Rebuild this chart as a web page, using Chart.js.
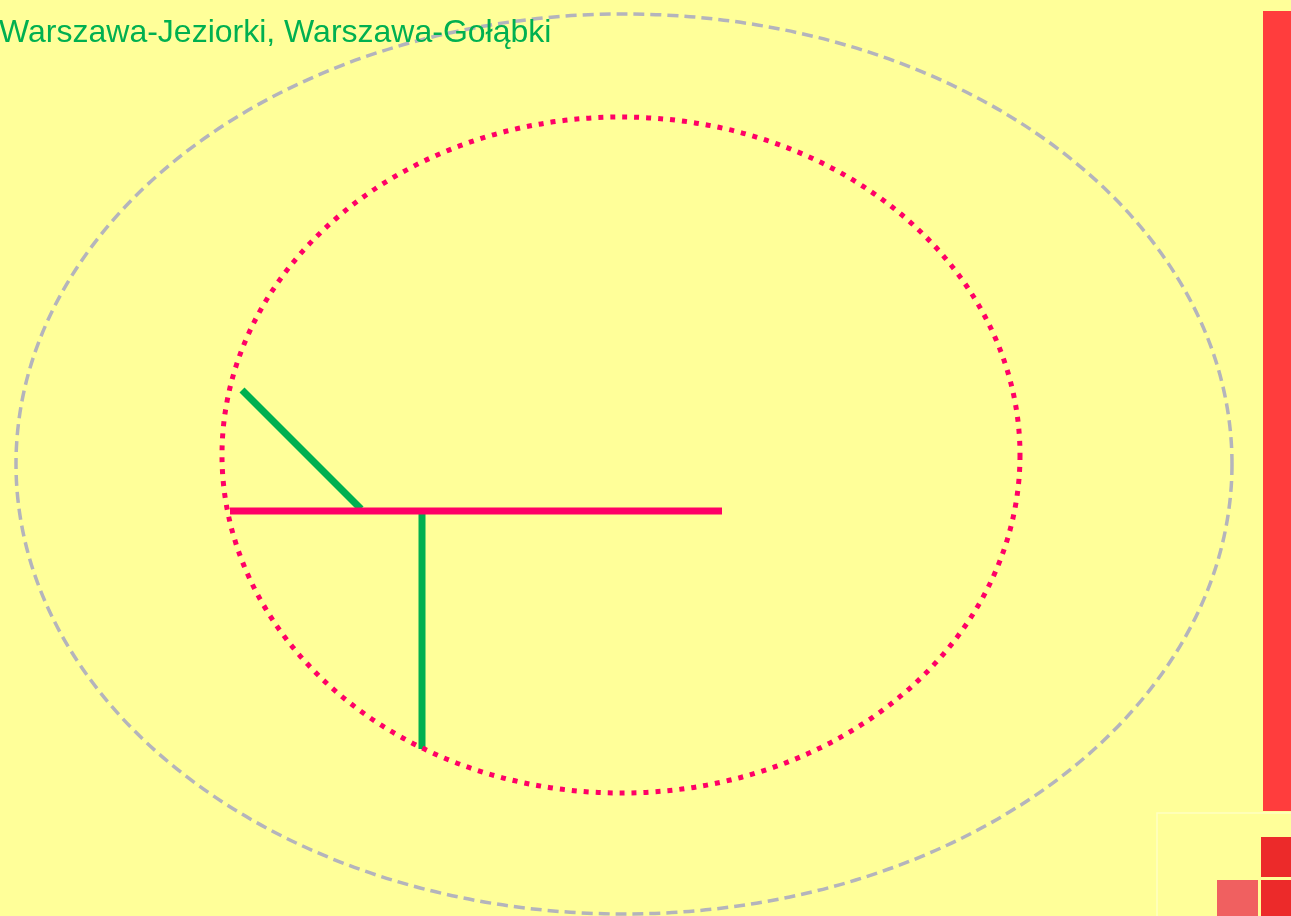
<!DOCTYPE html>
<html>
<head>
<meta charset="utf-8">
<script src="https://cdn.jsdelivr.net/npm/chart.js@4/dist/chart.umd.min.js"></script>
<style>
    html, body { margin: 0; padding: 0; background: #ffff99; overflow: hidden; }
    .mapa { position: relative; width: 1291px; height: 916px; }
</style>
</head>
<body>
<div class="mapa"><canvas class="myChart"></canvas></div>
<script>
// PODPIS
const podpis = 'Warszawa-Jeziorki, Warszawa-Gołąbki';

// STREFY (ŚRODEK X, ŚRODEK Y, PROMIEŃ X, PROMIEŃ Y)
const strefaZewnetrzna = [624, 464, 608, 450];
const strefaWewnetrzna = [621, 455, 399, 338];

// LINIE
const liniaGlownaX = [230, 722];
const liniaGlownaY = [511, 511];
const odnogaSkosnaX = [242, 361];
const odnogaSkosnaY = [390, 509];
const odnogaPionowaX = [422, 422];
const odnogaPionowaY = [513, 749];

// PROSTOKĄTY (X0, Y0, X1, Y1)
const prostokaty = [
    [1263, 11, 1291, 811],
    [1261, 837, 1291, 877],
    [1261, 880, 1291, 916],
    [1217, 880, 1258, 916]
];
const koloryProstokatow = ['#ff3d3d', '#ec2a2a', '#ec2a2a', '#f06060'];

const punkty = (xs, ys) => xs.map((x, i) => ({ x: x, y: ys[i] }));

const linia = (xs, ys, kolor) => ({
    data: punkty(xs, ys),
    showLine: true,
    borderColor: kolor,
    borderWidth: 7,
    borderCapStyle: 'butt',
    pointRadius: 0,
    fill: false
});

// RYSUJE STREFY, PROSTOKĄTY I PODPIS PRZEZ SKALE WYKRESU
const warstwaMapy = {
    id: 'warstwaMapy',
    beforeDatasetsDraw(chart) {
        const { ctx, scales: { x, y } } = chart;
        ctx.save();
        // ramka w prawym dolnym rogu
        ctx.strokeStyle = 'rgba(255,255,200,0.9)';
        ctx.lineWidth = 1.5;
        ctx.strokeRect(x.getPixelForValue(1157), y.getPixelForValue(813), 200, 200);
        prostokaty.forEach((p, i) => {
            const x0 = x.getPixelForValue(p[0]);
            const y0 = y.getPixelForValue(p[1]);
            const x1 = x.getPixelForValue(p[2]);
            const y1 = y.getPixelForValue(p[3]);
            ctx.fillStyle = koloryProstokatow[i];
            ctx.fillRect(x0, y0, x1 - x0, y1 - y0);
        });
        ctx.restore();
    },
    afterDatasetsDraw(chart) {
        const { ctx, scales: { x, y } } = chart;
        const elipsa = (e, kolor, szer, kreska) => {
            const cx = x.getPixelForValue(e[0]);
            const cy = y.getPixelForValue(e[1]);
            const rx = Math.abs(x.getPixelForValue(e[0] + e[2]) - cx);
            const ry = Math.abs(y.getPixelForValue(e[1] + e[3]) - cy);
            ctx.beginPath();
            ctx.ellipse(cx, cy, rx, ry, 0, 0, Math.PI * 2);
            ctx.strokeStyle = kolor;
            ctx.lineWidth = szer;
            ctx.setLineDash(kreska);
            ctx.stroke();
        };
        ctx.save();
        elipsa(strefaZewnetrzna, '#b4b4bc', 3.5, [11, 6]);
        elipsa(strefaWewnetrzna, '#ff0066', 5, [5, 7]);
        ctx.setLineDash([]);
        ctx.fillStyle = '#00b050';
        ctx.font = '32px "Liberation Sans", Arial, sans-serif';
        ctx.textBaseline = 'alphabetic';
        ctx.fillText(podpis, x.getPixelForValue(0) - 1, y.getPixelForValue(42));
        ctx.restore();
    }
};

const ctx = document.querySelector('.myChart');

new Chart(ctx, {
    type: 'scatter',
    data: {
        datasets: [
            linia(liniaGlownaX, liniaGlownaY, '#ff0066'),
            linia(odnogaSkosnaX, odnogaSkosnaY, '#00b050'),
            linia(odnogaPionowaX, odnogaPionowaY, '#00b050')
        ]
    },
    options: {
        responsive: true,
        maintainAspectRatio: false,
        animation: false,
        layout: { padding: 0 },
        plugins: {
            legend: { display: false },
            tooltip: { enabled: false },
            title: { display: false }
        },
        scales: {
            x: { type: 'linear', min: 0, max: 1291, display: false },
            y: { type: 'linear', min: 0, max: 916, reverse: true, display: false }
        }
    },
    plugins: [warstwaMapy]
});
</script>
</body>
</html>
